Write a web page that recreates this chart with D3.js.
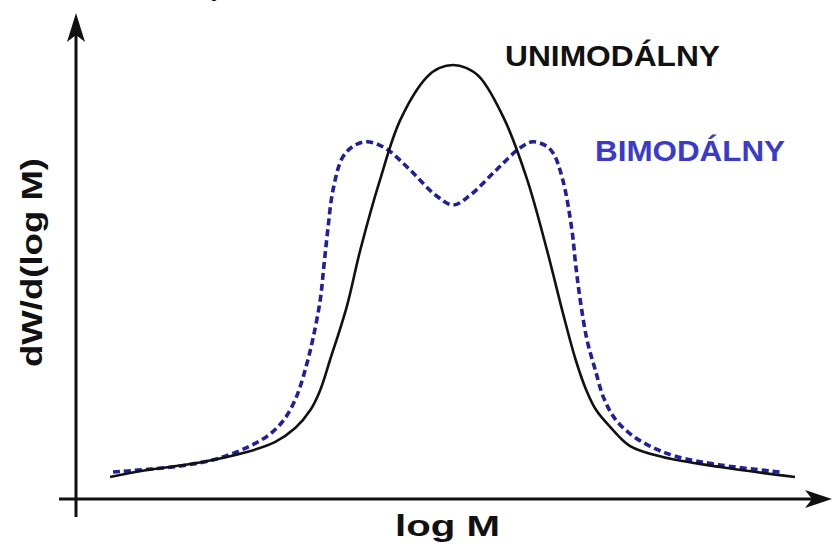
<!DOCTYPE html>
<html>
<head>
<meta charset="utf-8">
<script src="https://cdn.jsdelivr.net/npm/d3@7"></script>
<style>
  html, body { margin: 0; padding: 0; background: #fff; }
  svg { display: block; }
</style>
</head>
<body>
<svg id="chart" width="833" height="550"></svg>
<script>
// ---- data (log M and dW/d(log M) in arbitrary units 0..100) ----
const uniLogM = [4.5, 9.4, 16.0, 22.6, 26.3, 29.0, 31.0, 32.3, 33.6, 35.8, 37.6, 40.2, 42.9, 46.4, 48.1, 49.9, 51.6, 53.4, 56.7, 59.7, 62.3, 64.4, 66.1, 67.5, 68.8, 70.8, 73.3, 77.6, 85.2, 95.1];
const uniW    = [4.53, 5.97, 7.41, 9.67, 11.7, 14.6, 18.3, 22.4, 28.6, 39.5, 51.2, 65.6, 78.0, 86.8, 88.7, 89.3, 88.7, 86.8, 78.0, 65.6, 51.2, 38.3, 28.6, 22.4, 18.3, 14.6, 10.9, 8.64, 6.58, 4.53];

const biLogM = [4.9, 13.8, 19.0, 23.0, 25.7, 27.6, 29.1, 30.3, 31.3, 32.3, 32.8, 33.3, 34.0, 35.3, 36.9, 38.5, 40.9, 44.2, 47.5, 49.9, 52.2, 55.6, 58.7, 60.4, 62.0, 63.1, 64.4, 65.6, 66.1, 66.7, 67.6, 68.7, 69.8, 71.3, 73.3, 75.9, 79.2, 85.2, 93.1];
const biW    = [5.56, 6.79, 8.44, 10.9, 13.4, 16.5, 20.8, 26.5, 32.7, 40.9, 48.1, 55.3, 63.6, 70.4, 72.8, 73.5, 72.2, 67.7, 62.6, 60.5, 62.6, 67.7, 72.2, 73.5, 72.8, 71.2, 65.6, 55.3, 48.1, 40.9, 32.7, 26.5, 20.8, 16.5, 13.4, 10.9, 8.85, 7.0, 5.56];

const seriesLabels = ["UNIMODÁLNY", "BIMODÁLNY"];
const xAxisTitle = "log M";
const yAxisTitle = "dW/d(log M)";

// ---- layout ----
const svg = d3.select("#chart");
const x = d3.scaleLinear().domain([0, 100]).range([76, 832]);
const y = d3.scaleLinear().domain([0, 100]).range([499, 13]);

const font = "'Liberation Sans', Arial, Helvetica, sans-serif";
const axisColor = "#111";

// cut-off text fragment at the very top (as in the reference)
svg.append("text")
  .attr("x", 211).attr("y", -5)
  .attr("font-family", font).attr("font-size", 28)
  .attr("fill", "#111")
  .text("y");

// axes
const ox = x(0), oy = y(0);
svg.append("line")
  .attr("x1", ox).attr("x2", ox)
  .attr("y1", oy + 18).attr("y2", y(100) + 22)
  .attr("stroke", axisColor).attr("stroke-width", 3);
svg.append("path")
  .attr("d", `M${ox},${y(100)} L${ox - 9},${y(100) + 29} L${ox},${y(100) + 22} L${ox + 9},${y(100) + 29} Z`)
  .attr("fill", axisColor);

svg.append("line")
  .attr("x1", ox - 17).attr("x2", x(100) - 20)
  .attr("y1", oy).attr("y2", oy)
  .attr("stroke", axisColor).attr("stroke-width", 3);
svg.append("path")
  .attr("d", `M${x(100)},${oy} L${x(100) - 27},${oy - 9} L${x(100) - 20},${oy} L${x(100) - 27},${oy + 9} Z`)
  .attr("fill", axisColor);

// curves
const line = d3.line()
  .x(d => x(d[0])).y(d => y(d[1]))
  .curve(d3.curveCatmullRom.alpha(0.5));

svg.append("path")
  .datum(d3.zip(biLogM, biW))
  .attr("d", line)
  .attr("fill", "none")
  .attr("stroke", "#20209a")
  .attr("stroke-width", 3.6)
  .attr("stroke-dasharray", "7,4");

svg.append("path")
  .datum(d3.zip(uniLogM, uniW))
  .attr("d", line)
  .attr("fill", "none")
  .attr("stroke", "#111")
  .attr("stroke-width", 2.6);

// series labels
svg.append("text")
  .attr("x", 505).attr("y", 66)
  .attr("font-family", font).attr("font-weight", "bold").attr("font-size", 30)
  .attr("textLength", 215).attr("lengthAdjust", "spacingAndGlyphs")
  .attr("fill", "#111")
  .text(seriesLabels[0]);

svg.append("text")
  .attr("x", 595).attr("y", 161)
  .attr("font-family", font).attr("font-weight", "bold").attr("font-size", 29)
  .attr("textLength", 190).attr("lengthAdjust", "spacingAndGlyphs")
  .attr("fill", "#3a3acb")
  .text(seriesLabels[1]);

// axis titles
svg.append("text")
  .attr("x", 395).attr("y", 536)
  .attr("font-family", font).attr("font-weight", "bold").attr("font-size", 29)
  .attr("textLength", 105).attr("lengthAdjust", "spacingAndGlyphs")
  .attr("fill", "#111")
  .text(xAxisTitle);

svg.append("text")
  .attr("transform", "translate(42,367) rotate(-90)")
  .attr("font-family", font).attr("font-weight", "bold").attr("font-size", 30)
  .attr("textLength", 209).attr("lengthAdjust", "spacingAndGlyphs")
  .attr("fill", "#111")
  .text(yAxisTitle);
</script>
</body>
</html>
